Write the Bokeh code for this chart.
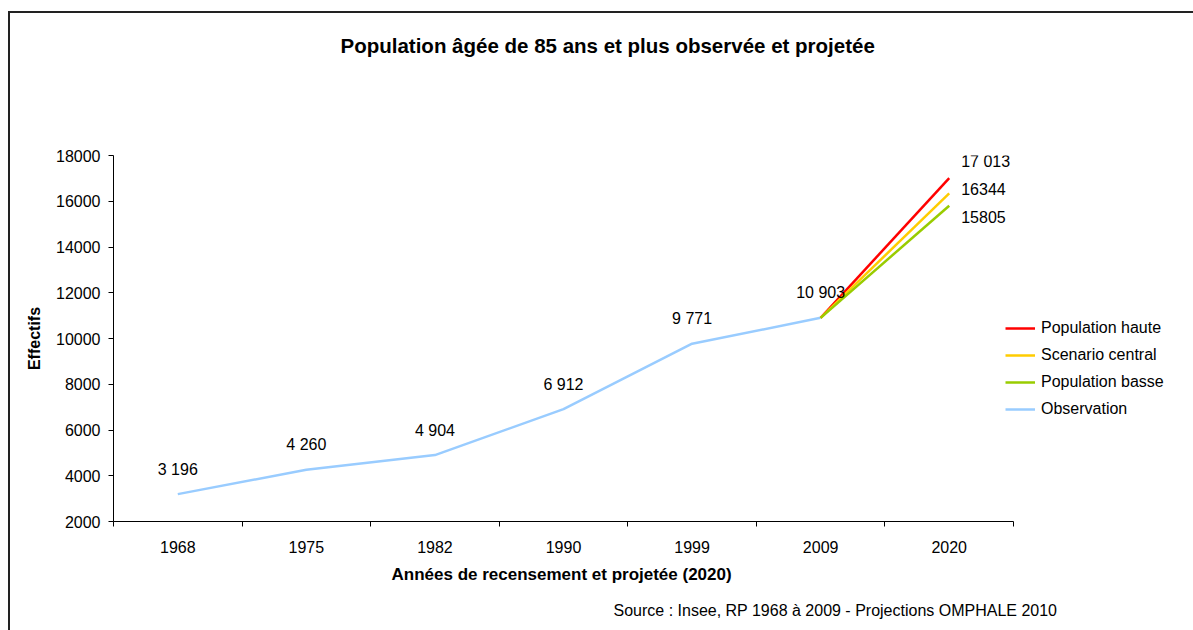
from bokeh.plotting import figure
from bokeh.models import (ColumnDataSource, LabelSet, Legend, LegendItem,
                          FixedTicker, Range1d, Title, InlineStyleSheet)
from bokeh.core.properties import value
from bokeh.embed import file_html
from bokeh.resources import INLINE

# ---- data ----
years = ["1968", "1975", "1982", "1990", "1999", "2009", "2020"]
obs_years = ["1968", "1975", "1982", "1990", "1999", "2009"]
obs_values = [3196, 4260, 4904, 6912, 9771, 10903]
obs_labels = ["3 196", "4 260", "4 904", "6 912", "9 771", "10 903"]
proj_years = ["2009", "2020"]
haute = [10903, 17013]
central = [10903, 16344]
basse = [10903, 15805]
proj_labels = ["17 013", "16344", "15805"]
y_ticks = [2000, 4000, 6000, 8000, 10000, 12000, 14000, 16000, 18000]

FONT = "Liberation Sans"
pos = {y: i + 0.5 for i, y in enumerate(years)}

# layout constants (pixels)
W, H = 1193, 630
LEFT, RIGHT, TOP, BOTTOM = 113, 8, 155, 109
AXIS_PX = 900  # width of the category axis
frame_w = W - LEFT - RIGHT
x_end = len(years) * frame_w / AXIS_PX

p = figure(width=W, height=H, output_backend="svg", toolbar_location=None,
           title=None,
           x_range=Range1d(0, x_end), y_range=Range1d(2000, 18000),
           min_border_left=LEFT, min_border_right=RIGHT, min_border_top=TOP,
           min_border_bottom=BOTTOM)
p.outline_line_color = None
p.xgrid.visible = False
p.ygrid.visible = False
p.background_fill_color = "white"
p.border_fill_alpha = 0
# outer chart-area border (as in the original spreadsheet export)
p.stylesheets = [InlineStyleSheet(css=(
    ":host { background-color: white;"
    " background-image: linear-gradient(#222, #222), linear-gradient(#222, #222);"
    " background-size: 2px 100%, 100% 2px;"
    " background-position: 8px 11px, 8px 11px;"
    " background-repeat: no-repeat; }"))]

# axes
xa = p.xaxis[0]
xa.bounds = (0, len(years))
xa.ticker = FixedTicker(ticks=[pos[y] for y in years],
                        minor_ticks=list(range(len(years) + 1)))
xa.major_label_overrides = {pos[y]: y for y in years}
xa.major_tick_out = 0
xa.major_tick_in = 0
xa.minor_tick_out = 5
xa.minor_tick_in = 0
xa.major_label_standoff = 14
xa.major_label_text_font = FONT
xa.major_label_text_font_size = "16px"
xa.major_label_text_color = "black"
xa.axis_line_color = "black"
xa.minor_tick_line_color = "black"

ya = p.yaxis[0]
ya.ticker = FixedTicker(ticks=y_ticks)
ya.minor_tick_out = 0
ya.minor_tick_in = 0
ya.major_tick_out = 5
ya.major_tick_in = 0
ya.major_label_standoff = 8
ya.axis_label = "Effectifs"
ya.axis_label_text_font = FONT
ya.axis_label_text_font_style = "bold"
ya.axis_label_text_font_size = "16px"
ya.axis_label_text_color = "black"
ya.axis_label_standoff = 10
ya.major_label_text_font = FONT
ya.major_label_text_font_size = "16px"
ya.major_label_text_color = "black"
ya.axis_line_color = "black"
ya.major_tick_line_color = "black"

# x axis title and source (below panel, stacked after the axis)
p.add_layout(Title(text="Années de recensement et projetée (2020)", align="left",
                   offset=278, text_font=FONT, text_font_size="17px",
                   text_font_style="bold", text_color="black", standoff=14), "below")
p.add_layout(Title(text="Source : Insee, RP 1968 à 2009 - Projections OMPHALE 2010",
                   align="left", offset=500, text_font=FONT, text_font_size="16px",
                   text_font_style="normal", text_color="black", standoff=18), "below")

# main title (spacer first, nearest the frame)
p.add_layout(Title(text=" ", text_font_size="1px", standoff=96), "above")
p.add_layout(Title(text="Population âgée de 85 ans et plus observée et projetée",
                   align="left", offset=227, text_font=FONT, text_font_size="20.5px",
                   text_font_style="bold", text_color="black", standoff=0), "above")

# lines
obs_src = ColumnDataSource(dict(x=[pos[y] for y in obs_years], y=obs_values, t=obs_labels))
r_obs = p.line("x", "y", source=obs_src, line_color="#99CCFF", line_width=2.5)
px = [pos[y] for y in proj_years]
r_h = p.line(px, haute, line_color="#FF0000", line_width=2.5)
r_c = p.line(px, central, line_color="#FFCC00", line_width=2.5)
r_b = p.line(px, basse, line_color="#99CC00", line_width=2.5)

# data labels
p.add_layout(LabelSet(x="x", y="y", text="t", source=obs_src, y_offset=25,
                      text_align="center", text_baseline="middle",
                      text_font=value(FONT), text_font_size="16px", text_color="black"))
proj_offsets = [17, 4, -11]
proj_src = ColumnDataSource(dict(
    x=[pos["2020"]] * 3, y=[haute[-1], central[-1], basse[-1]],
    t=proj_labels, off=proj_offsets))
p.add_layout(LabelSet(x="x", y="y", text="t", source=proj_src, x_offset=12,
                      y_offset="off", text_align="left", text_baseline="middle",
                      text_font=value(FONT), text_font_size="16px", text_color="black"))

# legend
legend = Legend(items=[
    LegendItem(label="Population haute", renderers=[r_h]),
    LegendItem(label="Scenario central", renderers=[r_c]),
    LegendItem(label="Population basse", renderers=[r_b]),
    LegendItem(label="Observation", renderers=[r_obs]),
], location=(892, 102))
legend.border_line_color = None
legend.background_fill_alpha = 0
legend.padding = 0
legend.margin = 0
legend.glyph_width = 30
legend.glyph_height = 20
legend.label_height = 20
legend.spacing = 7
legend.label_standoff = 6
legend.label_text_font = FONT
legend.label_text_font_size = "16px"
legend.label_text_color = "black"
p.add_layout(legend, "center")

open("out.html", "w").write(file_html(p, INLINE))
